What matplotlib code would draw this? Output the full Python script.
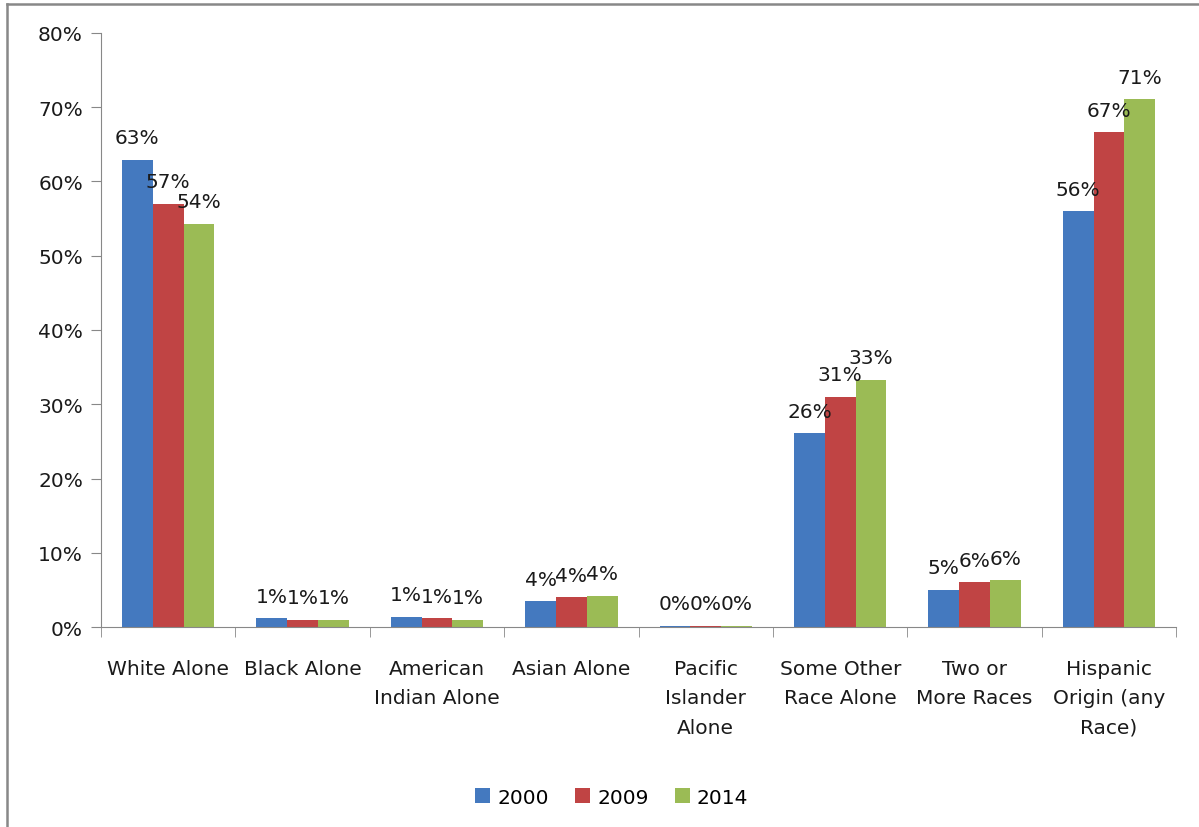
import numpy as np
import matplotlib.pyplot as plt
from matplotlib.lines import Line2D

categories = ["White Alone", "Black Alone", "American\nIndian Alone",
              "Asian Alone", "Pacific\nIslander\nAlone",
              "Some Other\nRace Alone", "Two or\nMore Races",
              "Hispanic\nOrigin (any\nRace)"]
years = ["2000", "2009", "2014"]
share_2000 = [0.629, 0.012, 0.014, 0.035, 0.002, 0.261, 0.050, 0.560]
share_2009 = [0.570, 0.010, 0.012, 0.040, 0.002, 0.310, 0.060, 0.666]
share_2014 = [0.543, 0.010, 0.010, 0.042, 0.002, 0.333, 0.063, 0.711]
colors = ["#4479bf", "#c04444", "#9bbb55"]

plt.rcParams["font.family"] = "DejaVu Sans"
FS = 14.5

fig = plt.figure(figsize=(11.99, 8.28), dpi=100)
ax = fig.add_axes([0.0842, 0.2415, 0.8968, 0.7175])

x = np.arange(len(categories))
width = 0.229
series = [share_2000, share_2009, share_2014]
for i, (vals, col, yr) in enumerate(zip(series, colors, years)):
    pos = x + (i - 1) * width
    ax.bar(pos, vals, width, color=col, label=yr, zorder=2)
    for px, v in zip(pos, vals):
        ax.annotate(f"{v:.0%}", (px, v), xytext=(0, 9),
                    textcoords="offset points", ha="center", va="bottom",
                    fontsize=FS, color="#1a1a1a")

ax.set_xlim(-0.5, len(categories) - 0.5)
ax.set_ylim(0, 0.8)
ticks = np.arange(0, 0.81, 0.1)
ax.set_yticks(ticks)
ax.set_yticklabels([f"{int(round(t * 100))}%" for t in ticks])

ax.set_xticks(x)
ax.set_xticklabels(categories, fontsize=FS, color="#1a1a1a", linespacing=1.7)
ax.set_xticks(np.arange(-0.5, len(categories)), minor=True)
ax.tick_params(axis="x", which="major", length=0, pad=23)
ax.tick_params(axis="x", which="minor", length=7, color="#888888")
ax.tick_params(axis="y", length=7, color="#888888", labelsize=FS,
               labelcolor="#1a1a1a", pad=6)

for side in ["top", "right"]:
    ax.spines[side].set_visible(False)
for side in ["left", "bottom"]:
    ax.spines[side].set_color("#888888")

ax.legend(loc="lower center", bbox_to_anchor=(0.475, -0.333), ncol=3,
          frameon=False, fontsize=FS, handlelength=0.75, handleheight=0.75,
          handletextpad=0.35, columnspacing=1.3)

# outer frame along top and left
fig.add_artist(Line2D([0.006, 1.0], [0.994, 0.994], color="#888888", lw=1.8))
fig.add_artist(Line2D([0.006, 0.006], [0.0, 0.994], color="#888888", lw=1.8))

fig.savefig("out.png", dpi=100)
